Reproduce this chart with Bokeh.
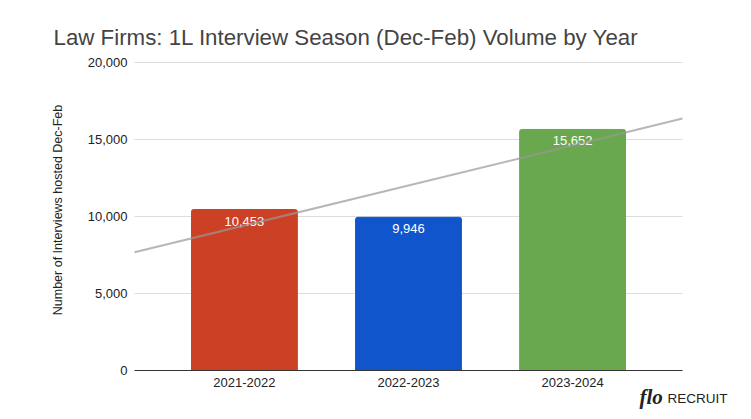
from bokeh.plotting import figure
from bokeh.models import FixedTicker, NumeralTickFormatter, Label, ColumnDataSource
from bokeh.core.properties import value
from bokeh.embed import file_html
from bokeh.resources import INLINE
import numpy as np

# ---- data ----
seasons = ["2021-2022", "2022-2023", "2023-2024"]
interviews = [10453, 9946, 15652]
bar_colors = ["#cc4125", "#1155cc", "#6aa84f"]
y_ticks = [0, 5000, 10000, 15000, 20000]

title_text = "Law Firms: 1L Interview Season (Dec-Feb) Volume by Year"
y_title = "Number of Interviews hosted Dec-Feb"

FONT = "Liberation Sans"

# ---- layout geometry (pixels) ----
W, H = 751, 419
plot_l, plot_r, plot_t, plot_b = 134, 682, 62, 370

xs = list(range(len(seasons)))
x_start, x_end = -0.67, len(seasons) - 1 + 0.67
y_top = y_ticks[-1]

# extend the ranges so that the whole canvas is the frame (texts outside the
# chart area are then not clipped); axes are pinned at their data locations
xpp = (x_end - x_start) / (plot_r - plot_l)
ypp = y_top / (plot_b - plot_t)
xr = (x_start - plot_l * xpp, x_end + (W - plot_r) * xpp)
yr = (-(H - plot_b) * ypp, y_top + plot_t * ypp)

p = figure(width=W, height=H, output_backend="svg", toolbar_location=None,
           x_range=xr, y_range=yr,
           min_border_left=0, min_border_right=0, min_border_top=0, min_border_bottom=0)
p.title.visible = False
p.outline_line_color = None
p.background_fill_color = "white"
p.border_fill_color = "white"
p.xgrid.grid_line_color = None
p.ygrid.grid_line_color = None

# horizontal grid lines across the chart area only
p.segment(x0=[x_start] * len(y_ticks), x1=[x_end] * len(y_ticks), y0=y_ticks, y1=y_ticks,
          line_color="#dddddd", line_width=1)

# y axis
p.yaxis.fixed_location = x_start
p.yaxis.ticker = FixedTicker(ticks=y_ticks)
p.yaxis.formatter = NumeralTickFormatter(format="0,0")
p.yaxis.axis_line_color = None
p.yaxis.major_tick_line_color = None
p.yaxis.minor_tick_line_color = None
p.yaxis.major_tick_out = 0
p.yaxis.major_tick_in = 0
p.yaxis.major_label_standoff = 7
p.yaxis.major_label_text_font = FONT
p.yaxis.major_label_text_font_size = "13px"
p.yaxis.major_label_text_color = "#222222"
p.yaxis.axis_label = y_title
p.yaxis.axis_label_text_font = FONT
p.yaxis.axis_label_text_font_size = "12.5px"
p.yaxis.axis_label_text_font_style = "normal"
p.yaxis.axis_label_text_color = "#222222"
p.yaxis.axis_label_standoff = 20

# x axis
p.xaxis.fixed_location = 0
p.xaxis.bounds = (x_start, x_end)
p.xaxis.ticker = FixedTicker(ticks=xs)
p.xaxis.major_label_overrides = {i: s for i, s in zip(xs, seasons)}
p.xaxis.axis_line_color = "#333333"
p.xaxis.axis_line_width = 1
p.xaxis.major_tick_line_color = None
p.xaxis.minor_tick_line_color = None
p.xaxis.major_tick_out = 0
p.xaxis.major_tick_in = 0
p.xaxis.major_label_standoff = 7
p.xaxis.major_label_text_font = FONT
p.xaxis.major_label_text_font_size = "13px"
p.xaxis.major_label_text_color = "#222222"

src = ColumnDataSource(dict(x=xs, top=interviews, color=bar_colors,
                            label=[f"{v:,}" for v in interviews]))
p.vbar(x="x", top="top", width=0.645, color="color", source=src,
       border_radius=[2, 2, 0, 0])

p.text(x="x", y="top", text="label", source=src, text_color="white",
       text_font=value(FONT), text_font_size="13px", text_align="center",
       text_baseline="top", y_offset=7)

# linear trendline computed from the data
slope, intercept = np.polyfit(xs, interviews, 1)
tx = [x_start, x_end]
ty = [intercept + slope * t for t in tx]
p.line(tx, ty, line_color="#999999", line_alpha=0.7, line_width=2)

# title and logo (screen units, origin at bottom-left of the frame = canvas)
p.add_layout(Label(x=53, y=H - 37, x_units="screen", y_units="screen", text=title_text,
                   text_font=FONT, text_font_size="22.3px", text_color="#444444",
                   text_baseline="alphabetic"))
p.add_layout(Label(x=639, y=H - 396, x_units="screen", y_units="screen", text="flo",
                   text_font="Liberation Serif", text_font_style="bold italic",
                   text_font_size="21px", text_color="#222222",
                   text_baseline="alphabetic"))
p.add_layout(Label(x=667, y=H - 398, x_units="screen", y_units="screen", text="RECRUIT",
                   text_font=FONT, text_font_size="13.5px", text_color="#222222",
                   text_baseline="alphabetic"))

open("out.html", "w").write(file_html(p, INLINE))
